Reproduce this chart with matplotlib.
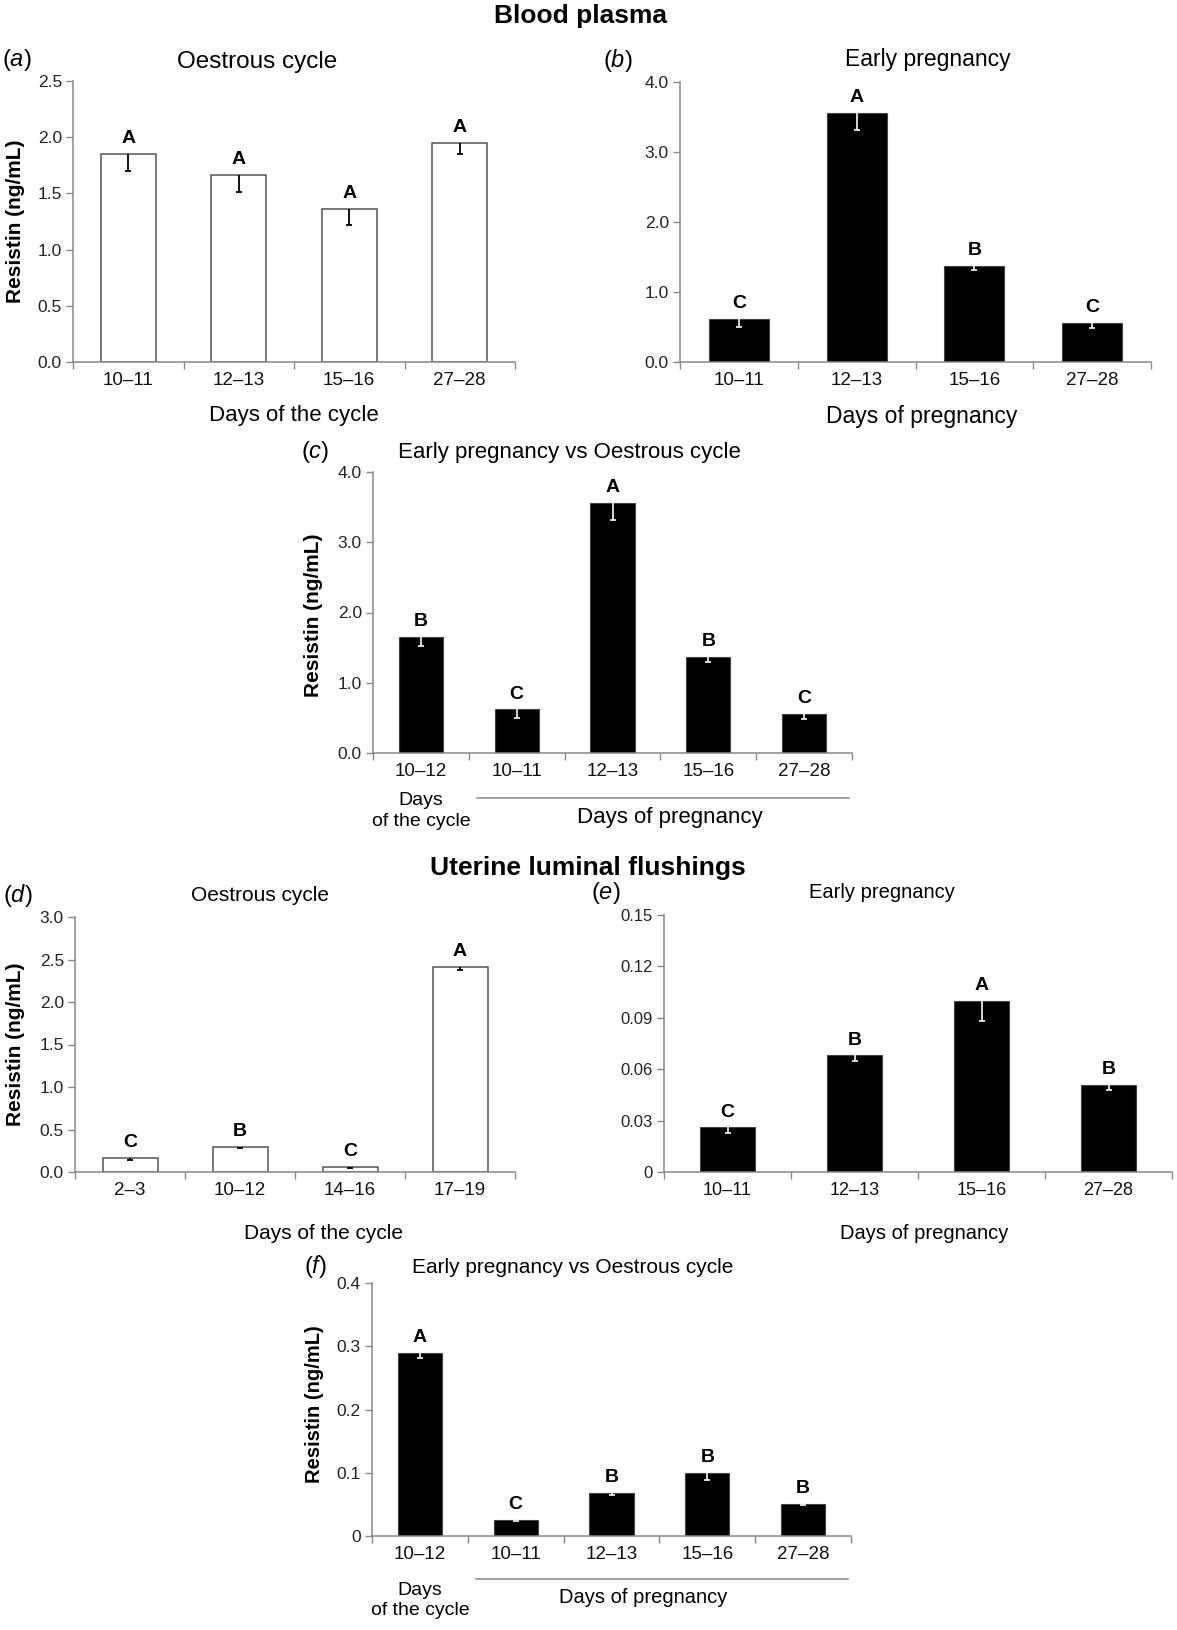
import numpy as np
import matplotlib
matplotlib.use("Agg")
import matplotlib.pyplot as plt

plt.rcParams['font.family'] = ['Liberation Sans', 'DejaVu Sans']
plt.rcParams['mathtext.fontset'] = 'custom'
plt.rcParams['mathtext.rm'] = 'Liberation Sans'
plt.rcParams['mathtext.it'] = 'Liberation Sans:italic'

W, H = 1177, 1630

# ---- data ----
a_cats = ['10–11', '12–13', '15–16', '27–28']
a_vals = [1.85, 1.66, 1.36, 1.95]
a_err = [0.15, 0.15, 0.14, 0.10]
a_lett = ['A', 'A', 'A', 'A']

b_cats = ['10–11', '12–13', '15–16', '27–28']
b_vals = [0.62, 3.56, 1.37, 0.56]
b_err = [0.12, 0.24, 0.06, 0.07]
b_lett = ['C', 'A', 'B', 'C']

c_cats = ['10–12', '10–11', '12–13', '15–16', '27–28']
c_vals = [1.65, 0.62, 3.56, 1.37, 0.56]
c_err = [0.13, 0.12, 0.24, 0.07, 0.08]
c_lett = ['B', 'C', 'A', 'B', 'C']

d_cats = ['2–3', '10–12', '14–16', '17–19']
d_vals = [0.16, 0.29, 0.06, 2.41]
d_err = [0.02, 0.01, 0.01, 0.03]
d_lett = ['C', 'B', 'C', 'A']

e_cats = ['10–11', '12–13', '15–16', '27–28']
e_vals = [0.026, 0.068, 0.100, 0.051]
e_err = [0.003, 0.003, 0.012, 0.003]
e_lett = ['C', 'B', 'A', 'B']

f_cats = ['10–12', '10–11', '12–13', '15–16', '27–28']
f_vals = [0.29, 0.026, 0.068, 0.100, 0.051]
f_err = [0.009, 0.003, 0.003, 0.012, 0.002]
f_lett = ['A', 'C', 'B', 'B', 'B']


def box(l, t, r, b):
    return [l / W, 1 - b / H, (r - l) / W, (b - t) / H]


def fxy(x, y):
    return x / W, 1 - y / H


def panel(ax, cats, vals, err, lett, white, width, ymax, ystep, yfmt,
          tsize=13.5, ysize=12.5):
    x = np.arange(len(cats))
    if white:
        ax.bar(x, vals, width, color='white', edgecolor='#555555', linewidth=1.1)
        ecol = 'black'
    else:
        ax.bar(x, vals, width, color='black', edgecolor='#444444', linewidth=0.8)
        ecol = '#e8e8e8'
    eb = ax.errorbar(x, vals, yerr=[err, np.zeros(len(err))], fmt='none',
                     ecolor=ecol, elinewidth=1.3, capsize=2.5, capthick=1.3)
    eb[1][1].set_visible(False)
    for xi, v, l in zip(x, vals, lett):
        ax.annotate(l, (xi, v), xytext=(0, 5), textcoords='offset points',
                    ha='center', va='bottom', fontsize=14, fontweight='bold')
    ax.set_xlim(-0.5, len(cats) - 0.5)
    ax.set_ylim(0, ymax)
    ticks = np.arange(0, ymax + ystep / 2, ystep)
    ax.set_yticks(ticks)
    ax.set_yticklabels([yfmt(t) for t in ticks], fontsize=ysize, color='#222222')
    ax.set_xticks(x)
    ax.set_xticklabels(cats, fontsize=tsize, color='#111111')
    ax.set_xticks(np.arange(len(cats) + 1) - 0.5, minor=True)
    ax.tick_params(axis='x', which='major', length=0, pad=7)
    ax.tick_params(axis='x', which='minor', length=5, color='#888888', width=1)
    ax.tick_params(axis='y', length=5, color='#888888', width=1, pad=3)
    for s in ['top', 'right']:
        ax.spines[s].set_visible(False)
    for s in ['left', 'bottom']:
        ax.spines[s].set_color('#888888')
        ax.spines[s].set_linewidth(1.1)


fig = plt.figure(figsize=(W / 100, H / 100), dpi=100)

f1 = lambda t: '%.1f' % t
f_e = lambda t: '0' if t == 0 else ('%.2f' % t)
f_f = lambda t: '0' if t == 0 else ('%.1f' % t)

axa = fig.add_axes(box(73, 81, 515, 362))
panel(axa, a_cats, a_vals, a_err, a_lett, True, 0.5, 2.5, 0.5, f1)
axb = fig.add_axes(box(680, 82, 1151, 362))
panel(axb, b_cats, b_vals, b_err, b_lett, False, 0.51, 4.0, 1.0, f1)
axc = fig.add_axes(box(373, 472, 852, 753))
panel(axc, c_cats, c_vals, c_err, c_lett, False, 0.46, 4.0, 1.0, f1)
axd = fig.add_axes(box(75, 917, 515, 1172))
panel(axd, d_cats, d_vals, d_err, d_lett, True, 0.5, 3.0, 0.5, f1)
axe = fig.add_axes(box(664, 915, 1172, 1172))
panel(axe, e_cats, e_vals, e_err, e_lett, False, 0.43, 0.15, 0.03, f_e,
      tsize=13, ysize=12)
axf = fig.add_axes(box(372, 1283, 851, 1536))
panel(axf, f_cats, f_vals, f_err, f_lett, False, 0.46, 0.4, 0.1, f_f)

# titles
titles = [(axa, 'Oestrous cycle', 0.416, 1.068, 17.5),
          (axb, 'Early pregnancy', 0.527, 1.079, 16.5),
          (axc, 'Early pregnancy vs Oestrous cycle', 0.411, 1.071, 16),
          (axd, 'Oestrous cycle', 0.42, 1.086, 15),
          (axe, 'Early pregnancy', 0.429, 1.086, 14.5),
          (axf, 'Early pregnancy vs Oestrous cycle', 0.418, 1.063, 15)]
for ax, t, x, y, s in titles:
    ax.set_title(t, x=x, y=y, va='center', fontsize=s, pad=0)

# y labels
for ax, x, y, s in [(axa, -0.131, 0.5, 15), (axc, -0.125, 0.49, 15),
                    (axd, -0.136, 0.5, 15), (axf, -0.121, 0.52, 14.5)]:
    ax.set_ylabel('Resistin (ng/mL)', fontsize=s, fontweight='bold')
    ax.yaxis.set_label_coords(x, y)
    ax.yaxis.label.set_va('center')

# x labels
for ax, t, x, y, s in [(axa, 'Days of the cycle', 0.5, -0.189, 16),
                       (axb, 'Days of pregnancy', 0.514, -0.196, 16.5),
                       (axd, 'Days of the cycle', 0.564, -0.24, 15),
                       (axe, 'Days of pregnancy', 0.512, -0.24, 14.5)]:
    ax.set_xlabel(t, fontsize=s)
    ax.xaxis.set_label_coords(x, y)
    ax.xaxis.label.set_va('center')

# combined panels: group labels under the x axis
for ax, ycyc, ysep, xpreg, ypreg, s in [(axc, -0.14, -0.16, 0.62, -0.228, 16),
                                        (axf, -0.18, -0.17, 0.566, -0.245, 14.5)]:
    tr = ax.get_xaxis_transform()
    ax.text(0, ycyc, 'Days\nof the cycle', transform=tr, ha='center', va='top',
            fontsize=14, linespacing=1.3)
    ax.plot([0.217, 0.994], [ysep, ysep], transform=ax.transAxes,
            color='#888888', lw=1.1, clip_on=False)
    ax.text(xpreg, ypreg, 'Days of pregnancy', transform=ax.transAxes,
            ha='center', va='center', fontsize=s)

# panel letters
for l, x, y in [('a', 17, 60), ('b', 618, 60), ('c', 315, 452),
                ('d', 18, 895), ('e', 606, 893), ('f', 315, 1267)]:
    fig.text(*fxy(x, y), '($\\it{%s}$)' % l, ha='center', va='center', fontsize=17)

fig.text(*fxy(580, 16), 'Blood plasma', ha='center', va='center',
         fontsize=19, fontweight='bold')
fig.text(*fxy(588, 868), 'Uterine luminal flushings', ha='center', va='center',
         fontsize=19, fontweight='bold')

fig.savefig('out.png', dpi=100)
